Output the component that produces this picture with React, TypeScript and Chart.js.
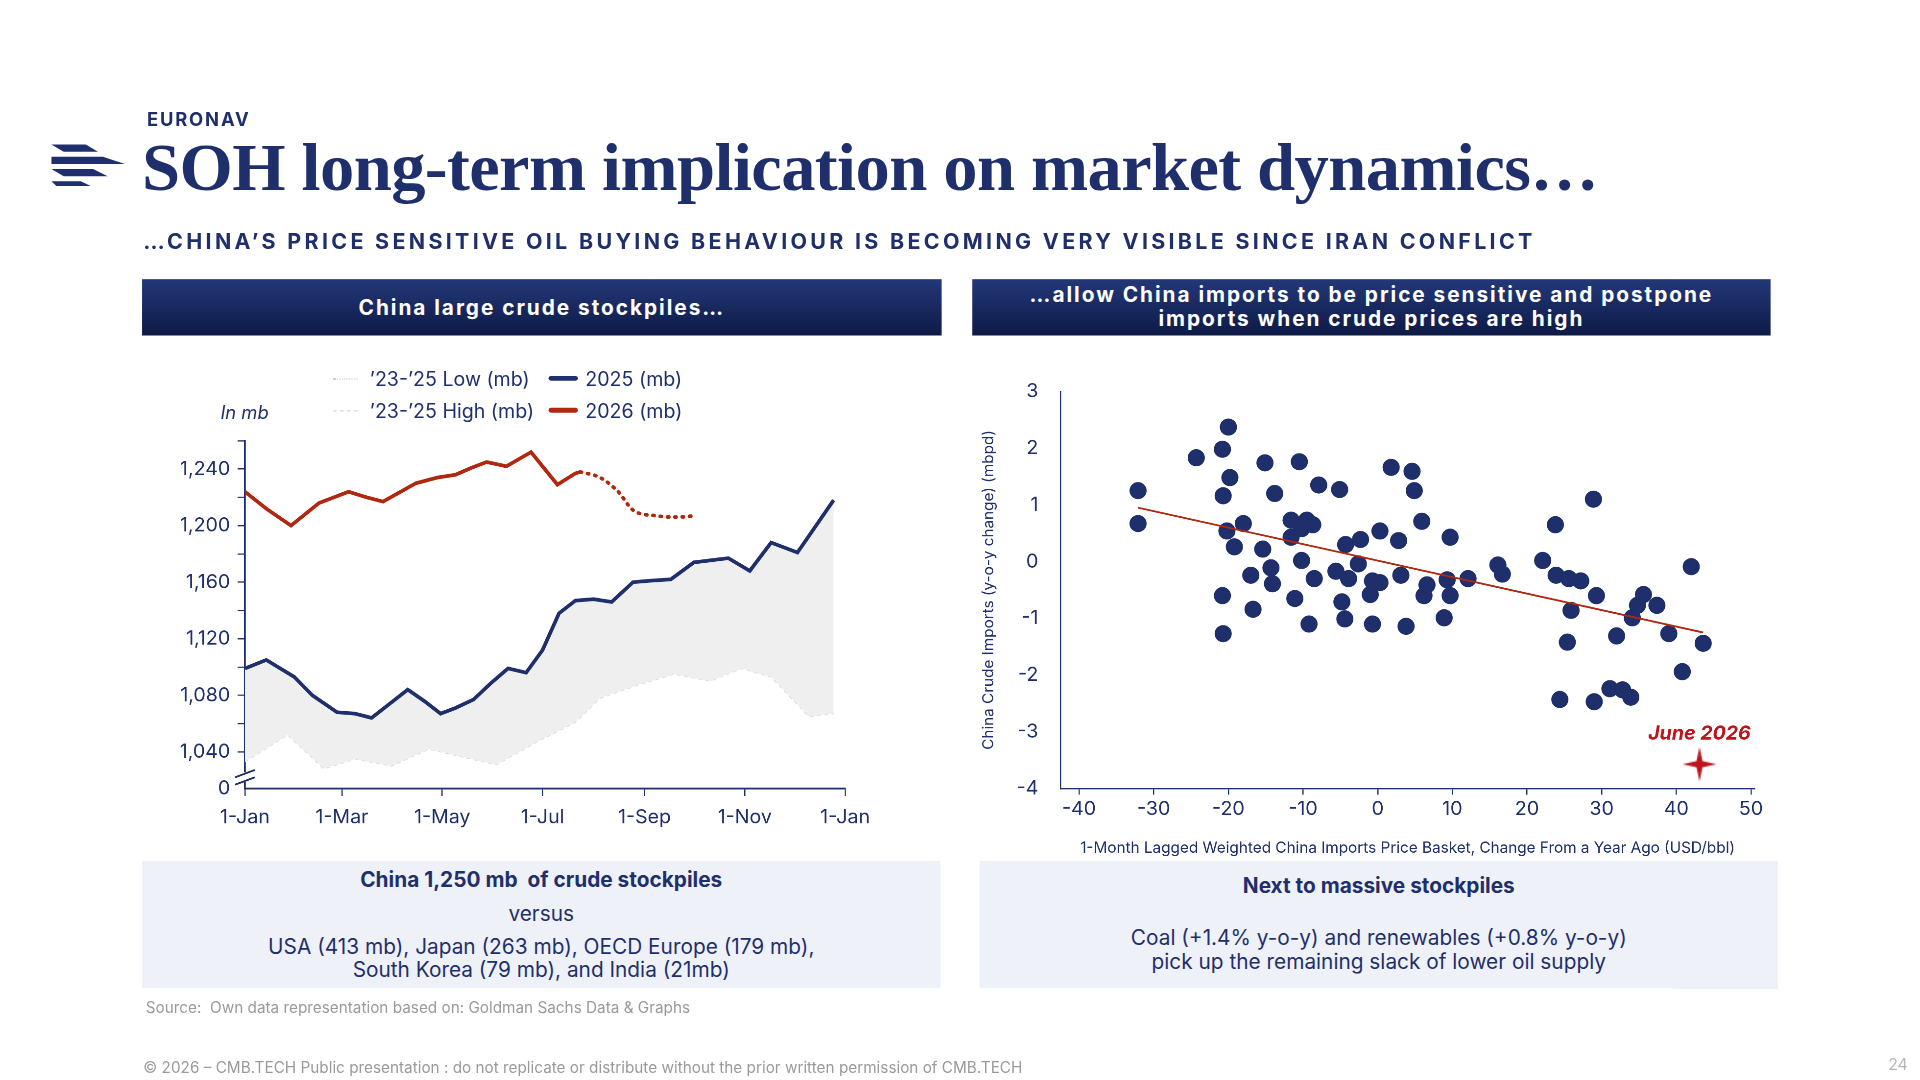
import React, { useEffect, useRef } from "react";
import { Chart, registerables } from "chart.js";
Chart.register(...registerables);

const NAVY = "#1f2f6b";
const RED = "#b0280f";
const FONT = "Inter, 'Noto Sans', sans-serif";

// Left chart: day-of-year → mb
const monthTickDays = [0, 59, 120, 181, 243, 304, 365];
const monthTickLabels = ["1-Jan", "1-Mar", "1-May", "1-Jul", "1-Sep", "1-Nov", "1-Jan"];
const yTicksLeft = [1014, 1020, 1040, 1060, 1080, 1100, 1120, 1140, 1160, 1180, 1200, 1220, 1240, 1260];

const days2025 = [0, 13, 30, 41, 56, 67, 77, 88, 99, 109, 119, 128, 139, 149, 160, 171, 181, 191, 201, 212, 223, 236, 246, 259, 273, 294, 307, 320, 336, 358];
const vals2025 = [1099, 1105, 1093, 1080, 1068, 1067, 1064, 1074, 1084, 1076, 1067, 1071, 1077, 1088, 1099, 1096, 1112, 1138, 1147, 1148, 1146, 1160, 1161, 1162, 1174, 1177, 1168, 1188, 1181, 1218];
const highVals = [1100, 1106, 1094, 1081, 1069, 1068, 1065, 1075, 1085, 1077, 1068, 1072, 1078, 1089, 1100, 1097, 1113, 1139, 1148, 1149, 1147, 1161, 1162, 1163, 1175, 1178, 1169, 1189, 1182, 1219];

const days2026 = [0, 13, 28, 45, 63, 74, 84, 104, 117, 128, 138, 147, 159, 174, 190, 201, 204];
const vals2026 = [1224, 1212, 1200, 1216, 1224, 1220, 1217, 1230, 1234, 1236, 1241, 1245, 1242, 1252, 1229, 1237, 1238];
const daysFcst = [204, 216, 227, 236, 250, 262, 274];
const valsFcst = [1238, 1234, 1224, 1211, 1207, 1206, 1207];

const daysLow = [0, 26, 48, 67, 89, 112, 130, 153, 179, 201, 216, 238, 261, 283, 302, 320, 343, 358];
const valsLow = [1033, 1052, 1028, 1035, 1030, 1042, 1037, 1031, 1048, 1061, 1078, 1087, 1095, 1090, 1099, 1093, 1065, 1067];

// Right chart: scatter
const xTicksRight = [-40, -30, -20, -10, 0, 10, 20, 30, 40, 50];
const priceChg = [-32.1, -32.1, -24.3, -20.8, -20.0, -19.8, -20.7, -20.2, -19.2, -18.0, -20.8, -20.7, -17.0, -16.7, -15.4, -15.1, -14.3, -14.1, -13.8, -11.6, -11.6, -11.1, -10.5, -10.2, -10.2, -9.5, -9.2, -8.7, -8.5, -7.9, -5.6, -5.1, -4.8, -4.3, -4.4, -3.9, -2.6, -2.3, -1.0, -0.7, -0.7, 0.3, 0.3, 1.8, 2.8, 3.1, 3.8, 4.6, 4.9, 5.9, 6.2, 6.6, 8.9, 9.3, 9.7, 9.7, 12.1, 16.1, 16.7, 22.1, 23.8, 23.9, 24.4, 25.4, 25.6, 25.9, 27.2, 28.9, 29.0, 29.3, 31.1, 32.0, 32.8, 33.9, 34.1, 34.8, 35.6, 37.4, 39.0, 40.8, 42.0, 43.6];
const importChg = [1.25, 0.67, 1.83, 1.98, 2.37, 1.48, 1.16, 0.54, 0.26, 0.67, -0.6, -1.27, -0.24, -0.84, 0.22, 1.74, -0.11, -0.39, 1.2, 0.73, 0.43, -0.65, 1.76, 0.02, 0.58, 0.73, -1.1, 0.65, -0.3, 1.35, -0.17, 1.27, -0.71, 0.3, -1.01, -0.3, -0.04, 0.39, -0.58, -1.1, -0.34, -0.37, 0.54, 1.66, 0.37, -0.24, -1.14, 1.59, 1.25, 0.71, -0.6, -0.41, -0.99, -0.32, -0.6, 0.43, -0.3, -0.06, -0.22, 0.02, 0.65, -0.24, -2.43, -1.42, -0.3, -0.86, -0.34, 1.1, -2.47, -0.6, -2.24, -1.31, -2.26, -2.39, -0.99, -0.77, -0.58, -0.77, -1.27, -1.94, -0.09, -1.44];
const trendX = [-32.1, 43.6];
const trendY = [0.95, -1.25];
const june2026 = { x: 43.1, y: -3.57 };

function pts(xs: number[], ys: number[]) {
  return xs.map((x, i) => ({ x, y: ys[i] }));
}

function makeStar() {
  const c = document.createElement("canvas");
  const s = 30;
  c.width = s; c.height = s;
  const g = c.getContext("2d")!;
  g.fillStyle = "#c0141c";
  g.beginPath();
  const m = s / 2, r = 14, q = 2.5;
  g.moveTo(m, m - r); g.lineTo(m + q, m - q); g.lineTo(m + r, m); g.lineTo(m + q, m + q);
  g.lineTo(m, m + r); g.lineTo(m - q, m + q); g.lineTo(m - r, m); g.lineTo(m - q, m - q);
  g.closePath(); g.fill();
  return c;
}

const breakPlugin = {
  id: "breakMarks",
  afterDraw(chart: any) {
    const { ctx } = chart;
    const y = chart.scales.y.getPixelForValue(1022);
    const x = chart.scales.y.right;
    ctx.save();
    ctx.strokeStyle = NAVY;
    ctx.lineWidth = 1.5;
    ctx.fillStyle = "#fff";
    ctx.fillRect(x - 9, y - 4, 18, 8);
    [-3, 3].forEach((d) => {
      ctx.beginPath();
      ctx.moveTo(x - 8, y + d + 3);
      ctx.lineTo(x + 8, y + d - 3);
      ctx.stroke();
    });
    ctx.restore();
  },
};

function LeftChart() {
  const ref = useRef<HTMLCanvasElement>(null);
  useEffect(() => {
    const ch = new Chart(ref.current!, {
      type: "line",
      data: {
        datasets: [
          { label: "Low", data: pts(daysLow, valsLow), borderColor: "#d4d4d4", borderWidth: 1, borderDash: [3, 3], pointRadius: 0, fill: false, order: 5 },
          { label: "High", data: pts(days2025, highVals), borderColor: "#e4e4e4", borderWidth: 1, borderDash: [6, 4], pointRadius: 0, fill: 0, backgroundColor: "#efefef", order: 4 },
          { label: "2025", data: pts(days2025, vals2025), borderColor: NAVY, borderWidth: 3, pointRadius: 0, fill: false, order: 1 },
          { label: "2026", data: pts(days2026, vals2026), borderColor: RED, borderWidth: 3, pointRadius: 0, fill: false, order: 1 },
          { label: "2026f", data: pts(daysFcst, valsFcst), borderColor: RED, borderWidth: 3, borderDash: [1, 5], borderCapStyle: "round", cubicInterpolationMode: "monotone", pointRadius: 0, fill: false, order: 1 },
        ],
      },
      options: {
        responsive: false,
        animation: false,
        devicePixelRatio: 2.5,
        layout: { padding: { top: 70, right: 79, left: 0, bottom: 0 } },
        plugins: { legend: { display: false }, tooltip: { enabled: false } },
        scales: {
          x: {
            type: "linear", min: 0, max: 365,
            afterBuildTicks: (s: any) => { s.ticks = monthTickDays.map((v) => ({ value: v })); },
            afterFit: (s: any) => { s.height = 46; },
            ticks: { callback: (_v: any, i: number) => monthTickLabels[i], color: NAVY, font: { family: FONT, size: 16 }, maxRotation: 0, autoSkip: false, padding: 8 },
            grid: { display: true, drawOnChartArea: false, tickLength: 6, color: NAVY },
            border: { color: NAVY, width: 1.5 },
          },
          y: {
            type: "linear", min: 1014, max: 1260,
            afterBuildTicks: (s: any) => { s.ticks = yTicksLeft.map((v) => ({ value: v })); },
            afterFit: (s: any) => { s.width = 84; },
            ticks: {
              callback: (v: any) => (v === 1014 ? "0" : v % 40 === 0 && v <= 1240 ? v.toLocaleString("en-US") : ""),
              color: NAVY, font: { family: FONT, size: 16 }, autoSkip: false, padding: 6,
            },
            grid: { display: true, drawOnChartArea: false, tickLength: 6, color: (c: any) => (c.tick && c.tick.value === 1014 ? "rgba(0,0,0,0)" : NAVY) },
            border: { color: NAVY, width: 1.5 },
          },
        },
      },
      plugins: [breakPlugin],
    } as any);
    return () => ch.destroy();
  }, []);
  return <canvas ref={ref} width={653} height={400} style={{ position: "absolute", left: 116, top: 290, width: 653, height: 400 }} />;
}

function RightChart() {
  const ref = useRef<HTMLCanvasElement>(null);
  useEffect(() => {
    const star = makeStar();
    const ch = new Chart(ref.current!, {
      type: "scatter",
      data: {
        datasets: [
          { label: "trend", type: "line", data: pts(trendX, trendY), borderColor: "#b0280f", borderWidth: 1.5, pointRadius: 0, order: 0 },
          { label: "obs", data: pts(priceChg, importChg), backgroundColor: NAVY, borderColor: NAVY, pointRadius: 6.5, order: 1 },
          { label: "June 2026", data: [june2026], pointStyle: star as any, pointRadius: 15, order: 0 },
        ],
      },
      options: {
        responsive: false,
        animation: false,
        devicePixelRatio: 2.5,
        layout: { padding: { top: 18, right: 19, left: 0, bottom: 0 } },
        plugins: { legend: { display: false }, tooltip: { enabled: false } },
        scales: {
          x: {
            type: "linear", min: -42.5, max: 50.5,
            afterBuildTicks: (s: any) => { s.ticks = xTicksRight.map((v) => ({ value: v })); },
            ticks: { color: NAVY, font: { family: FONT, size: 16 }, padding: 2, maxRotation: 0, autoSkip: false },
            grid: { display: true, drawOnChartArea: false, tickLength: 5, color: NAVY },
            border: { color: NAVY, width: 1 },
            title: { display: true, text: "1-Month Lagged Weighted China Imports Price Basket, Change From a Year Ago (USD/bbl)", color: NAVY, font: { family: FONT, size: 12.5 }, padding: { top: 6, bottom: 0 } },
            afterFit: (s: any) => { s.height = 56; },
          },
          y: {
            type: "linear", min: -4, max: 3,
            ticks: { stepSize: 1, color: NAVY, font: { family: FONT, size: 16 }, padding: 10 },
            grid: { display: false },
            border: { color: NAVY, width: 1 },
            title: { display: true, text: "China Crude Imports (y-o-y change) (mbpd)", color: NAVY, font: { family: FONT, size: 12.5 }, padding: { top: 0, bottom: 4 } },
            afterFit: (s: any) => { s.width = 66; },
          },
        },
      },
      plugins: [{
        id: "junelabel",
        afterDraw(chart: any) {
          const { ctx } = chart;
          const x = chart.scales.x.getPixelForValue(june2026.x);
          const y = chart.scales.y.getPixelForValue(june2026.y);
          ctx.save();
          ctx.fillStyle = "#c0141c";
          ctx.font = `italic bold 16px ${FONT}`;
          ctx.textAlign = "center";
          ctx.fillText("June 2026", x, y - 20);
          ctx.restore();
        },
      }],
    } as any);
    return () => ch.destroy();
  }, []);
  return <canvas ref={ref} width={652} height={400} style={{ position: "absolute", left: 800, top: 300, width: 652, height: 400 }} />;
}

const headerStyle: React.CSSProperties = {
  position: "absolute", top: 228, height: 46, background: "linear-gradient(#233879, #0e1a45)",
  color: "#fff", fontFamily: FONT, fontWeight: 700, fontSize: 17, letterSpacing: 1.6,
  display: "flex", alignItems: "center", justifyContent: "center", textAlign: "center", lineHeight: "19px",
};
const boxStyle: React.CSSProperties = {
  position: "absolute", top: 703, height: 104, background: "#eef1f8", color: NAVY, fontFamily: FONT,
  textAlign: "center", fontSize: 17,
};

export default function App() {
  const scale = 1920 / 1568;
  return (
    <div style={{ position: "fixed", left: 0, top: 0, width: 1920, height: 1080, background: "#fff", overflow: "hidden" }}>
      <div style={{ position: "absolute", left: 0, top: 0, width: 1568, height: 882, transform: `scale(${scale})`, transformOrigin: "0 0", color: NAVY, fontFamily: FONT }}>
        <svg style={{ position: "absolute", left: 40, top: 116 }} width={64} height={38} viewBox="0 0 64 38">
          <polygon points="2,2 30,2 40,8 12,8" fill={NAVY} />
          <polygon points="2,12 44,12 62,18 2,18" fill={NAVY} />
          <polygon points="2,22 36,22 48,28 12,28" fill={NAVY} />
          <polygon points="2,32 26,32 34,36 6,36" fill={NAVY} />
        </svg>
        <div style={{ position: "absolute", left: 120, top: 88, fontSize: 15, fontWeight: 700, letterSpacing: 1.5 }}>EURONAV</div>
        <div style={{ position: "absolute", left: 116, top: 104, fontSize: 56, fontWeight: 700, fontFamily: "'Liberation Serif', serif", letterSpacing: -0.5, whiteSpace: "nowrap" }}>SOH long-term implication on market dynamics…</div>
        <div style={{ position: "absolute", left: 117, top: 186, fontSize: 17.5, fontWeight: 700, letterSpacing: 2.7, whiteSpace: "nowrap" }}>…CHINA’S PRICE SENSITIVE OIL BUYING BEHAVIOUR IS BECOMING VERY VISIBLE SINCE IRAN CONFLICT</div>

        <div style={{ ...headerStyle, left: 116, width: 653 }}>China large crude stockpiles…</div>
        <div style={{ ...headerStyle, left: 794, width: 652 }}>…allow China imports to be price sensitive and postpone<br />imports when crude prices are high</div>

        <LeftChart />
        <RightChart />

        <div style={{ position: "absolute", left: 180, top: 327, fontSize: 15, fontStyle: "italic" }}>In mb</div>
        <div style={{ position: "absolute", left: 272, top: 296, fontSize: 16, lineHeight: "26px" }}>
          {[["’23-’25 Low (mb)", "#cfcfcf", "dotted", 1, "2025 (mb)", NAVY], ["’23-’25 High (mb)", "#d8d8d8", "dashed", 1, "2026 (mb)", RED]].map((r: any, i) => (
            <div key={i} style={{ display: "flex", alignItems: "center" }}>
              <span style={{ display: "inline-block", width: 20, borderTop: `1px ${r[2]} ${r[1]}`, marginRight: 10 }} />
              <span style={{ width: 146 }}>{r[0]}</span>
              <span style={{ display: "inline-block", width: 24, height: 4, borderRadius: 2, background: r[5], marginRight: 6 }} />
              <span>{r[4]}</span>
            </div>
          ))}
        </div>

        <div style={{ ...boxStyle, left: 116, width: 652 }}>
          <div style={{ fontWeight: 700, marginTop: 5 }}>China 1,250 mb&nbsp; of crude stockpiles</div>
          <div style={{ marginTop: 8 }}>versus</div>
          <div style={{ marginTop: 8, lineHeight: "19px" }}>USA (413 mb), Japan (263 mb), OECD Europe (179 mb),<br />South Korea (79 mb), and India (21mb)</div>
        </div>
        <div style={{ ...boxStyle, left: 800, width: 652 }}>
          <div style={{ fontWeight: 700, marginTop: 10 }}>Next to massive stockpiles</div>
          <div style={{ marginTop: 24, lineHeight: "19px" }}>Coal (+1.4% y-o-y) and renewables (+0.8% y-o-y)<br />pick up the remaining slack of lower oil supply</div>
        </div>

        <div style={{ position: "absolute", left: 119, top: 815, fontSize: 12.5, color: "#9a9a9a" }}>Source:&nbsp; Own data representation based on: Goldman Sachs Data &amp; Graphs</div>
        <div style={{ position: "absolute", left: 117, top: 864, fontSize: 12.5, color: "#9a9a9a" }}>© 2026 – CMB.TECH Public presentation : do not replicate or distribute without the prior written permission of CMB.TECH</div>
        <div style={{ position: "absolute", left: 1542, top: 861, fontSize: 13, color: "#b5b5b5" }}>24</div>
      </div>
    </div>
  );
}
